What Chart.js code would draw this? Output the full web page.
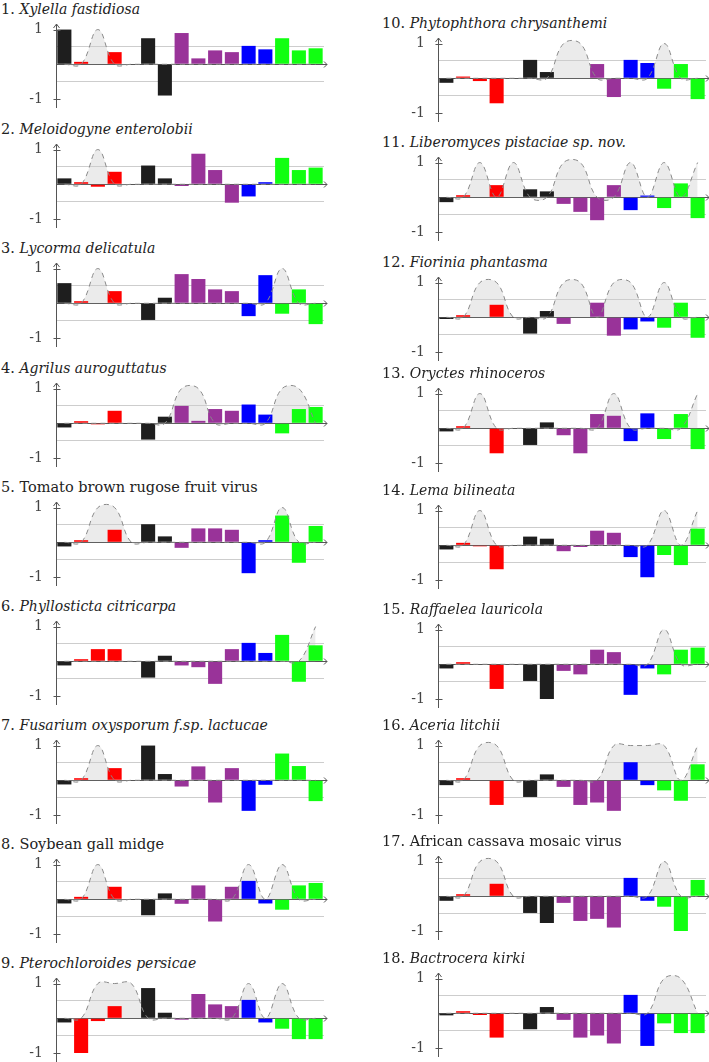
<!DOCTYPE html>
<html>
<head>
<meta charset="utf-8">
<script src="https://cdn.jsdelivr.net/npm/chart.js@4.4.1/dist/chart.umd.min.js"></script>
<style>
  body { margin: 0; background: #fff; width: 709px; height: 1062px; position: relative; overflow: hidden; }
  .ttl { position: absolute; font-family: "DejaVu Serif", "Liberation Serif", serif; font-size: 14.5px; line-height: 20px; color: #222; white-space: nowrap; }
  .ttl i { font-size: 14px; }
  canvas { position: absolute; }
</style>
</head>
<body>
<script>
// 16 slots per panel, colour groups fixed
const slots = ['1','2','3','4','5','6','7','8','9','10','11','12','13','14','15','16'];
const yTicks = [-1, -0.5, 0, 0.5, 1];

const panelTitles = [
  'Xylella fastidiosa', 'Meloidogyne enterolobii', 'Lycorma delicatula',
  'Agrilus auroguttatus', 'Tomato brown rugose fruit virus', 'Phyllosticta citricarpa',
  'Fusarium oxysporum f.sp. lactucae', 'Soybean gall midge', 'Pterochloroides persicae',
  'Phytophthora chrysanthemi', 'Liberomyces pistaciae sp. nov.', 'Fiorinia phantasma',
  'Oryctes rhinoceros', 'Lema bilineata', 'Raffaelea lauricola',
  'Aceria litchii', 'African cassava mosaic virus', 'Bactrocera kirki'
];
const italicTitles = [true, true, true, true, false, true, true, false, true,
                      true, true, true, true, true, true, true, false, true];

const p1Bars  = [1.0, 0.07, 0, 0.35, 0, 0.75, -0.9, 0.9, 0.17, 0.4, 0.35, 0.53, 0.43, 0.75, 0.4, 0.46];
const p2Bars  = [0.17, 0.06, -0.07, 0.36, 0, 0.54, 0.17, -0.05, 0.88, 0.41, -0.53, -0.35, 0.06, 0.76, 0.41, 0.48];
const p3Bars  = [0.58, 0.06, 0, 0.35, 0, -0.48, 0.16, 0.84, 0.7, 0.4, 0.35, -0.37, 0.81, -0.3, 0.4, -0.6];
const p4Bars  = [-0.12, 0.06, -0.03, 0.36, 0, -0.47, 0.19, 0.5, 0.07, 0.41, 0.36, 0.54, 0.25, -0.29, 0.41, 0.47];
const p5Bars  = [-0.12, 0.06, 0, 0.36, 0, 0.52, 0.17, -0.16, 0.4, 0.4, 0.36, -0.89, 0.06, 0.77, -0.59, 0.47];
const p6Bars  = [-0.12, 0.06, 0.35, 0.35, 0, -0.47, 0.16, -0.12, -0.17, -0.65, 0.35, 0.53, 0.24, 0.76, -0.59, 0.46];
const p7Bars  = [-0.12, 0.06, 0, 0.35, 0, 1.0, 0.18, -0.18, 0.4, -0.64, 0.35, -0.88, -0.13, 0.77, 0.41, -0.6];
const p8Bars  = [-0.12, 0.07, 0, 0.36, 0, -0.46, 0.17, -0.13, 0.4, -0.64, 0.36, 0.53, -0.12, -0.3, 0.4, 0.47];
const p9Bars  = [-0.12, -1.0, -0.08, 0.35, 0, 0.87, 0.16, -0.04, 0.7, 0.4, 0.35, 0.53, -0.12, -0.3, -0.6, -0.6];
const p10Bars = [-0.13, 0.05, -0.08, -0.72, 0, 0.53, 0.18, 0, 0, 0.41, -0.54, 0.53, 0.44, -0.3, 0.41, -0.6];
const p11Bars = [-0.14, 0.06, 0, 0.35, 0, 0.23, 0.17, -0.19, -0.42, -0.66, 0.35, -0.37, 0.05, -0.31, 0.4, -0.6];
const p12Bars = [-0.05, 0.06, 0, 0.36, 0, -0.47, 0.18, -0.19, 0, 0.42, -0.53, -0.35, -0.12, -0.3, 0.42, -0.59];
const p13Bars = [-0.09, 0.06, 0, -0.72, 0, -0.48, 0.17, -0.2, -0.72, 0.41, 0.36, -0.37, 0.43, -0.31, 0.41, -0.6];
const p14Bars = [-0.12, 0.07, -0.03, -0.69, 0, 0.25, 0.19, -0.17, -0.05, 0.42, 0.36, -0.34, -0.92, -0.28, -0.57, 0.48];
const p15Bars = [-0.12, 0.06, 0, -0.71, 0, -0.48, -1.0, -0.19, -0.29, 0.42, 0.35, -0.88, -0.12, -0.29, 0.42, 0.48];
const p16Bars = [-0.14, 0.06, 0, -0.71, 0, -0.48, 0.17, -0.19, -0.71, -0.64, -0.88, 0.52, -0.14, -0.29, -0.59, 0.46];
const p17Bars = [-0.13, 0.06, 0, 0.36, 0, -0.48, -0.77, -0.19, -0.71, -0.65, -0.9, 0.53, -0.13, -0.3, -1.0, 0.47];
const p18Bars = [-0.06, 0.06, -0.05, -0.7, 0, -0.46, 0.18, -0.19, -0.7, -0.64, -0.87, 0.53, -0.94, -0.29, -0.57, -0.57];

// grey dashed humps (1 = hump at that slot)
const p1Bumps  = [0,0,1,0,0,0,0,0,0,0,0,0,0,0,0,0];
const p2Bumps  = [0,0,1,0,0,0,0,0,0,0,0,0,0,0,0,0];
const p3Bumps  = [0,0,1,0,0,0,0,0,0,0,0,0,0,1,0,0];
const p4Bumps  = [0,0,0,0,0,0,0,1,1,0,0,0,0,1,1,0];
const p5Bumps  = [0,0,1,1,0,0,0,0,0,0,0,0,0,1,0,0];
const p6Bumps  = [0,0,0,0,0,0,0,0,0,0,0,0,0,0,0,1];
const p7Bumps  = [0,0,1,0,0,0,0,0,0,0,0,0,0,0,0,0];
const p8Bumps  = [0,0,1,0,0,0,0,0,0,0,0,1,0,1,0,0];
const p9Bumps  = [0,0,1,1,1,0,0,0,0,0,0,1,0,1,0,0];
const p10Bumps = [0,0,0,0,0,0,0,1,1,0,0,0,0,1,0,0];
const p11Bumps = [0,0,1,0,1,0,0,1,1,0,0,1,0,1,0,1];
const p12Bumps = [0,0,1,1,0,0,0,1,1,0,1,1,0,1,0,0];
const p13Bumps = [0,0,1,0,0,0,0,0,0,0,1,0,0,0,0,1];
const p14Bumps = [0,0,1,0,0,0,0,0,0,0,0,0,0,1,0,1];
const p15Bumps = [0,0,0,0,0,0,0,0,0,0,0,0,0,1,0,0];
const p16Bumps = [0,0,1,1,0,0,0,0,0,0,1,1,1,1,0,1];
const p17Bumps = [0,0,1,1,0,0,0,0,0,0,0,0,0,1,0,0];
const p18Bumps = [0,0,0,0,0,0,0,0,0,0,0,0,0,1,1,0];

const allBars = [p1Bars, p2Bars, p3Bars, p4Bars, p5Bars, p6Bars, p7Bars, p8Bars, p9Bars,
                 p10Bars, p11Bars, p12Bars, p13Bars, p14Bars, p15Bars, p16Bars, p17Bars, p18Bars];
const allBumps = [p1Bumps, p2Bumps, p3Bumps, p4Bumps, p5Bumps, p6Bumps, p7Bumps, p8Bumps, p9Bumps,
                  p10Bumps, p11Bumps, p12Bumps, p13Bumps, p14Bumps, p15Bumps, p16Bumps, p17Bumps, p18Bumps];

const groupColor = { k: '#1e1e1e', r: '#ff0000', p: '#993399', b: '#0000ff', g: '#11ff11' };
const slotGroups = ['k','r','r','r','k','k','k','p','p','p','p','b','b','g','g','g'];

// zero-line y of each row (page px)
const leftZero = [64, 184, 303, 423, 542, 661, 780, 899, 1018];
const rightZero = [78, 197, 317, 428, 545, 664, 780, 896, 1013];

// arrows on the axes and the little crosses at +-1
const axisDecor = {
  id: 'axisDecor',
  afterDraw(chart) {
    const { ctx, chartArea, scales } = chart;
    const ax = Math.round(chartArea.left) + 0.5;
    const y0 = Math.round(scales.y.getPixelForValue(0)) + 0.5;
    const top = chartArea.top;
    const right = chartArea.right;
    ctx.save();
    ctx.strokeStyle = '#555';
    ctx.lineWidth = 1;
    ctx.beginPath();
    ctx.moveTo(ax - 3, top + 4); ctx.lineTo(ax, top); ctx.lineTo(ax + 3, top + 4);
    ctx.moveTo(right, y0); ctx.lineTo(right + 3, y0);
    ctx.moveTo(right, y0 - 3); ctx.lineTo(right + 3, y0); ctx.lineTo(right, y0 + 3);
    [1, -1].forEach(v => {
      const py = Math.round(scales.y.getPixelForValue(v)) + 0.5;
      ctx.moveTo(ax - 3, py); ctx.lineTo(ax + 4, py);
    });
    ctx.stroke();
    ctx.restore();
  }
};

allBars.forEach((bars, i) => {
  const right = i >= 9;
  const row = i % 9;
  const zero = right ? rightZero[row] : leftZero[row];
  const left = right ? 382 : 0;

  const t = document.createElement('div');
  t.className = 'ttl';
  t.style.left = (right ? 382 : 1) + 'px';
  t.style.top = (zero - 65) + 'px';
  t.appendChild(document.createTextNode((i + 1) + '. '));
  if (italicTitles[i]) {
    const em = document.createElement('i');
    em.textContent = panelTitles[i];
    t.appendChild(em);
  } else {
    t.appendChild(document.createTextNode(panelTitles[i]));
  }
  document.body.appendChild(t);

  const cv = document.createElement('canvas');
  cv.width = 332;
  cv.height = 103;
  cv.style.left = left + 'px';
  cv.style.top = (zero - 50) + 'px';
  document.body.appendChild(cv);

  new Chart(cv.getContext('2d'), {
    type: 'bar',
    data: {
      labels: slots,
      datasets: [{
        type: 'line',
        data: allBumps[i],
        borderColor: '#8a8a8a',
        borderWidth: 1,
        borderDash: [5, 4],
        backgroundColor: 'rgba(205,205,205,0.4)',
        fill: 'origin',
        tension: 0.4,
        pointRadius: 0,
        order: 0
      }, {
        data: bars,
        backgroundColor: slotGroups.map(g => groupColor[g]),
        borderWidth: 0,
        barPercentage: 0.84,
        categoryPercentage: 1,
        order: 1
      }]
    },
    options: {
      responsive: false,
      animation: false,
      layout: { padding: { top: 10, bottom: 10, left: 0, right: 8 } },
      plugins: {
        legend: { display: false },
        tooltip: { enabled: false },
        filler: { drawTime: 'beforeDatasetsDraw' }
      },
      scales: {
        x: { display: false },
        y: {
          min: -1.23,
          max: 1.16,
          afterFit: s => { s.width = 56; s.paddingTop = 0; s.paddingBottom = 0; },
          afterBuildTicks: s => { s.ticks = yTicks.map(v => ({ value: v })); },
          border: { color: '#555', width: 1 },
          grid: {
            drawTicks: false,
            color: c => {
              const v = c.tick.value;
              if (v === 0) return '#555';
              if (Math.abs(v) === 0.5) return '#cdcdcd';
              return 'rgba(0,0,0,0)';
            }
          },
          ticks: {
            padding: 13,
            color: '#444',
            font: { family: 'DejaVu Serif', size: 14 },
            callback: v => (v === 1 ? '1' : v === -1 ? '-1' : '')
          }
        }
      }
    },
    plugins: [axisDecor]
  });
});
</script>
</body>
</html>
